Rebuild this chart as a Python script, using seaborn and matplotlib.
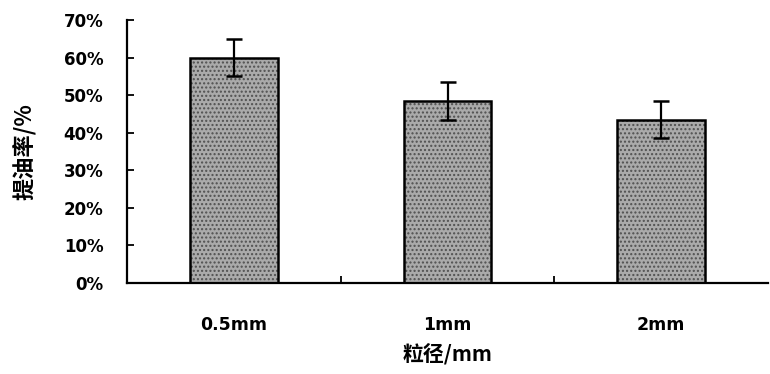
import matplotlib
matplotlib.use("Agg")
import matplotlib.pyplot as plt
import matplotlib.patches as mpatches
from matplotlib.ticker import FixedLocator, PercentFormatter
import seaborn as sns
import pandas as pd

# Oil extraction rate by particle size
sizes = ["0.5mm", "1mm", "2mm"]
rate = [60.0, 48.5, 43.5]
err = [5.0, 5.0, 5.0]
y_ticks = [0, 10, 20, 30, 40, 50, 60, 70]

sns.set_theme(style="white")
plt.rcParams["font.family"] = ["DejaVu Sans", "Noto Sans CJK SC"]
plt.rcParams["hatch.linewidth"] = 1.0
plt.rcParams["hatch.color"] = "#505050"
plt.rcParams["text.color"] = "black"
plt.rcParams["axes.labelcolor"] = "black"
plt.rcParams["xtick.color"] = "black"
plt.rcParams["ytick.color"] = "black"

df = pd.DataFrame({"size": sizes, "rate": rate})

fig = plt.figure(figsize=(7.7, 3.74), dpi=100)
ax = fig.add_axes([127 / 770, 1 - 283 / 374, (768 - 127) / 770, (283 - 20) / 374])

sns.barplot(data=df, x="size", y="rate", color="#aaaaaa", width=0.41,
            saturation=1, ax=ax, linewidth=0)

# stippled fill plus a black outline on each bar
for p in list(ax.patches):
    p.set_hatch("....")
    p.set_edgecolor("#505050")
    p.set_linewidth(0)
    ax.add_patch(mpatches.Rectangle(p.get_xy(), p.get_width(), p.get_height(),
                                    fill=False, edgecolor="black", linewidth=1.8,
                                    zorder=p.get_zorder() + 0.1))

ax.errorbar(range(len(sizes)), rate, yerr=err, fmt="none", ecolor="black",
            elinewidth=1.6, capsize=6, capthick=1.8, zorder=5)

ax.set_xlim(-0.5, len(sizes) - 0.5)
ax.set_ylim(0, 70)
ax.yaxis.set_major_locator(FixedLocator(y_ticks))
ax.yaxis.set_major_formatter(PercentFormatter(decimals=0))

for side in ["top", "right"]:
    ax.spines[side].set_visible(False)
for side in ["left", "bottom"]:
    ax.spines[side].set_linewidth(1.6)
    ax.spines[side].set_color("black")

ax.tick_params(axis="y", direction="in", length=5, width=1.3, pad=17,
               labelsize=12, left=True)
for lab in ax.get_yticklabels():
    lab.set_fontweight("bold")

# category ticks between bars, labels centred under bars
ax.xaxis.set_minor_locator(FixedLocator([0.5, 1.5]))
ax.tick_params(axis="x", which="minor", direction="in", length=5, width=1.3, bottom=True)
ax.tick_params(axis="x", which="major", length=0, pad=24, labelsize=12.5)
for lab in ax.get_xticklabels():
    lab.set_fontweight("bold")

ax.set_xlabel("粒径/mm", fontsize=15, fontweight="bold", labelpad=6,
              family=["Noto Sans CJK SC", "DejaVu Sans"])
ax.set_ylabel("提油率/%", fontsize=16, fontweight="bold", labelpad=20,
              family=["Noto Sans CJK SC", "DejaVu Sans"])

fig.savefig("out.png", dpi=100)
